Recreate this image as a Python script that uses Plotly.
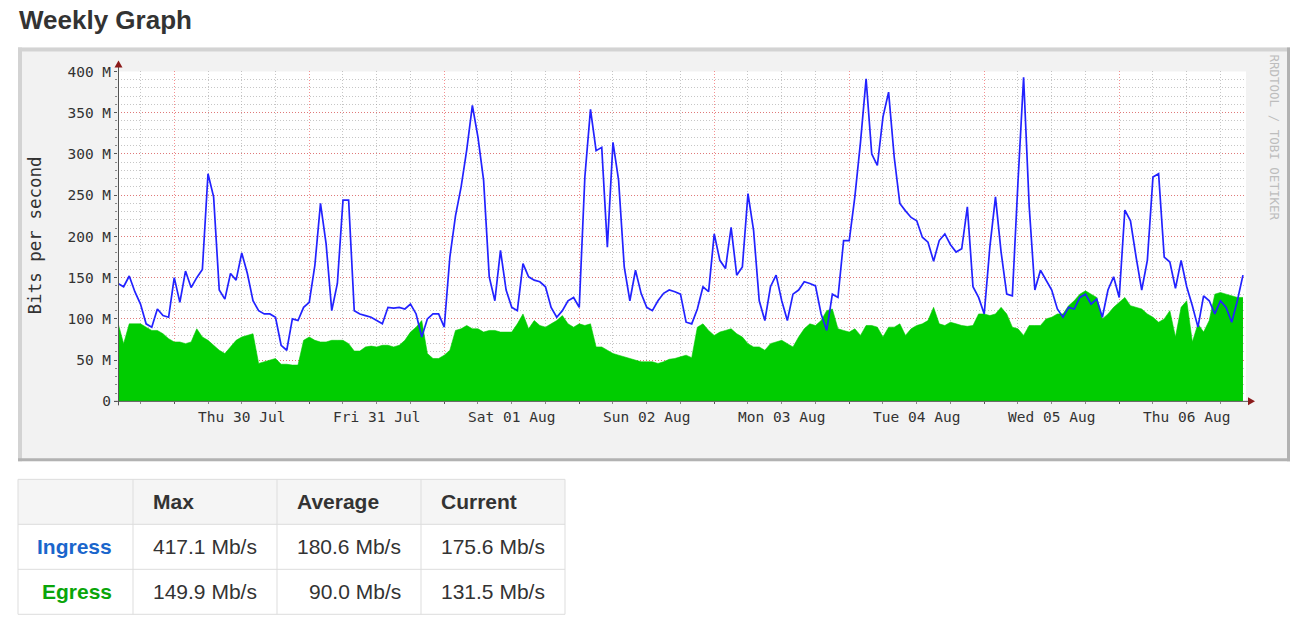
import pandas as pd
import plotly.graph_objects as go

# ---------------- data (Mb/s, hourly samples starting Wed 29 Jul 2020 14:00) -------------
START = "2020-07-29 14:00"
RANGE_END = "2020-08-06 22:11"

INGRESS_MBPS = [
    143, 139, 152, 133, 118, 94, 90, 112, 104, 102,
    150, 120, 158, 138, 150, 160, 276, 248, 135, 124,
    155, 147, 180, 155, 122, 110, 106, 106, 102, 68,
    62, 100, 98, 114, 120, 165, 240, 191, 110, 143,
    244, 244, 110, 106, 104, 102, 98, 94, 114, 113,
    114, 112, 118, 106, 78, 100, 106, 106, 90, 175,
    225, 260, 305, 359, 320, 268, 151, 122, 183, 135,
    114, 110, 167, 151, 147, 145, 139, 114, 102, 110,
    122, 126, 114, 272, 354, 304, 308, 187, 314, 268,
    163, 122, 159, 131, 114, 110, 122, 131, 135, 133,
    130, 96, 94, 112, 139, 133, 203, 171, 161, 211,
    153, 163, 252, 207, 122, 98, 139, 153, 122, 98,
    130, 135, 145, 143, 140, 106, 86, 130, 126, 195,
    195, 248, 314, 391, 300, 286, 345, 375, 296, 240,
    231, 223, 219, 199, 193, 170, 195, 203, 190, 181,
    185, 236, 139, 126, 106, 187, 248, 181, 130, 128,
    266, 393, 236, 135, 159, 147, 135, 112, 102, 114,
    112, 126, 130, 118, 124, 102, 135, 151, 126, 232,
    219, 175, 135, 171, 272, 276, 175, 169, 137, 171,
    139, 116, 90, 128, 122, 106, 122, 114, 96, 122,
    153,
]

EGRESS_MBPS = [
    95, 70, 94, 94, 94, 90, 86, 86, 82, 76,
    72, 72, 70, 72, 88, 78, 74, 68, 62, 58,
    66, 74, 78, 80, 82, 46, 48, 50, 52, 45,
    45, 44, 44, 74, 78, 74, 72, 72, 74, 74,
    74, 70, 61, 61, 66, 67, 66, 68, 68, 66,
    68, 74, 84, 90, 98, 58, 52, 52, 56, 62,
    86, 88, 92, 88, 88, 84, 86, 86, 84, 84,
    84, 94, 106, 88, 98, 92, 90, 94, 98, 104,
    94, 90, 94, 92, 94, 66, 66, 62, 58, 56,
    54, 52, 50, 48, 48, 48, 46, 48, 51, 52,
    54, 56, 53, 90, 94, 86, 80, 84, 86, 88,
    82, 78, 70, 66, 66, 62, 70, 72, 74, 70,
    66, 78, 88, 94, 92, 98, 110, 112, 88, 86,
    84, 88, 80, 92, 92, 90, 78, 90, 90, 94,
    80, 88, 92, 94, 98, 114, 94, 92, 96, 94,
    92, 91, 92, 106, 106, 104, 106, 114, 106, 90,
    88, 80, 92, 92, 92, 100, 102, 106, 106, 116,
    122, 130, 134, 130, 126, 100, 106, 114, 120, 126,
    116, 114, 112, 106, 102, 96, 100, 110, 78, 114,
    122, 72, 94, 84, 98, 130, 132, 130, 128, 126,
    126,
]

YTICK_VALUES = [0, 50, 100, 150, 200, 250, 300, 350, 400]
YTICK_LABELS = ["0", "50 M", "100 M", "150 M", "200 M", "250 M", "300 M", "350 M", "400 M"]

STAT_HEADERS = ["Max", "Average", "Current"]
ROW_LABELS = ["Ingress", "Egress"]
INGRESS_STATS = ["417.1 Mb/s", "180.6 Mb/s", "175.6 Mb/s"]
EGRESS_STATS = ["149.9 Mb/s", "90.0 Mb/s", "131.5 Mb/s"]

# ---------------- layout helpers (target pixel -> paper) ----------------
W, H = 1304, 632
# vertical compensation observed for the capture (image_y = A * page_y + B)
A, B = 0.975, 7.5


def px(x):
    return x / W


def py(y):
    return 1 - ((y - B) / A) / H


MONO = "DejaVu Sans Mono"
SANS = "Liberation Sans, Arial, sans-serif"

times = pd.date_range(START, periods=len(INGRESS_MBPS), freq="h")

fig = go.Figure()
fig.add_trace(go.Scatter(
    x=times, y=EGRESS_MBPS, mode="lines", name="Egress",
    line=dict(color="#00cc00", width=0.6), fill="tozeroy", fillcolor="#00cc00",
    hoverinfo="skip",
))
fig.add_trace(go.Scatter(
    x=times, y=INGRESS_MBPS, mode="lines", name="Ingress",
    line=dict(color="#2222ff", width=1.7),
    hoverinfo="skip",
))

shapes = []
# outer frame of the rrd image
shapes.append(dict(type="rect", xref="paper", yref="paper", layer="below",
                   x0=px(18), x1=px(1290), y0=py(461), y1=py(47),
                   fillcolor="#f2f2f2", line=dict(width=0)))
shapes.append(dict(type="line", xref="paper", yref="paper", layer="below",
                   x0=px(18), x1=px(1290), y0=py(49), y1=py(49),
                   line=dict(color="#d3d3d3", width=4)))
shapes.append(dict(type="line", xref="paper", yref="paper", layer="below",
                   x0=px(20), x1=px(20), y0=py(47), y1=py(461),
                   line=dict(color="#d3d3d3", width=4)))
shapes.append(dict(type="line", xref="paper", yref="paper", layer="below",
                   x0=px(18), x1=px(1290), y0=py(459.5), y1=py(459.5),
                   line=dict(color="#b2b2b2", width=3)))
shapes.append(dict(type="line", xref="paper", yref="paper", layer="below",
                   x0=px(1288.5), x1=px(1288.5), y0=py(47), y1=py(461),
                   line=dict(color="#b2b2b2", width=3)))
# white canvas
shapes.append(dict(type="rect", xref="paper", yref="paper", layer="below",
                   x0=px(118), x1=px(1246), y0=py(401), y1=py(71),
                   fillcolor="#ffffff", line=dict(width=0)))
# axis lines with arrows
shapes.append(dict(type="line", xref="paper", yref="paper", layer="above",
                   x0=px(118.5), x1=px(118.5), y0=py(405), y1=py(64),
                   line=dict(color="#555555", width=1)))
shapes.append(dict(type="line", xref="paper", yref="paper", layer="above",
                   x0=px(114), x1=px(1249), y0=py(401), y1=py(401),
                   line=dict(color="#555555", width=1)))
shapes.append(dict(type="path", xref="paper", yref="paper", layer="above",
                   path=f"M {px(114.5)},{py(67)} L {px(122.5)},{py(67)} L {px(118.5)},{py(60)} Z",
                   fillcolor="#8b1a1a", line=dict(width=0)))
shapes.append(dict(type="path", xref="paper", yref="paper", layer="above",
                   path=f"M {px(1248)},{py(397)} L {px(1248)},{py(405)} L {px(1255)},{py(401)} Z",
                   fillcolor="#8b1a1a", line=dict(width=0)))

annotations = []
annotations.append(dict(xref="paper", yref="paper", x=px(17), y=py(20), xanchor="left", yanchor="middle",
                        text="<b>Weekly Graph</b>", showarrow=False,
                        font=dict(family=SANS, size=26, color="#333333")))
annotations.append(dict(xref="paper", yref="paper", x=px(35), y=py(235), xanchor="center", yanchor="middle",
                        text="Bits per second", textangle=-90, showarrow=False,
                        font=dict(family=MONO, size=17.5, color="#333333")))
annotations.append(dict(xref="paper", yref="paper", x=px(1275), y=py(137), xanchor="center", yanchor="middle",
                        text="RRDTOOL / TOBI OETIKER", textangle=90, showarrow=False,
                        font=dict(family=MONO, size=12.5, color="#bdbdbd")))

# ---------------- stats table ----------------
col_edges = [18, 133, 277, 421, 565]
row_edges = [479, 524, 569, 614]
shapes.append(dict(type="rect", xref="paper", yref="paper",
                   x0=px(col_edges[0]), x1=px(col_edges[-1]), y0=py(row_edges[1]), y1=py(row_edges[0]),
                   fillcolor="#f5f5f5", line=dict(width=0)))
for yv in row_edges:
    shapes.append(dict(type="line", xref="paper", yref="paper",
                       x0=px(col_edges[0]), x1=px(col_edges[-1]), y0=py(yv), y1=py(yv),
                       line=dict(color="#dddddd", width=1)))
for xv in col_edges:
    shapes.append(dict(type="line", xref="paper", yref="paper",
                       x0=px(xv), x1=px(xv), y0=py(row_edges[0]), y1=py(row_edges[-1]),
                       line=dict(color="#dddddd", width=1)))

for i, head in enumerate(STAT_HEADERS):
    annotations.append(dict(xref="paper", yref="paper", x=px(col_edges[i + 1] + 18),
                            y=py((row_edges[0] + row_edges[1]) / 2), xanchor="left", yanchor="middle",
                            text=f"<b>{head}</b>", showarrow=False,
                            font=dict(family=SANS, size=21, color="#333333")))

row_colors = ["#1a66cc", "#0aa50a"]
for r, (label, stats) in enumerate(zip(ROW_LABELS, [INGRESS_STATS, EGRESS_STATS])):
    yc = py((row_edges[r + 1] + row_edges[r + 2]) / 2)
    annotations.append(dict(xref="paper", yref="paper", x=px(col_edges[1] - 19), y=yc,
                            xanchor="right", yanchor="middle", text=f"<b>{label}</b>", showarrow=False,
                            font=dict(family=SANS, size=21, color=row_colors[r])))
    for c, val in enumerate(stats):
        annotations.append(dict(xref="paper", yref="paper", x=px(col_edges[c + 2] - 18), y=yc,
                                xanchor="right", yanchor="middle", text=val, showarrow=False,
                                font=dict(family=SANS, size=21, color="#333333")))

RED_GRID = "rgba(240,70,70,0.6)"
GRAY_GRID = "rgba(160,160,160,0.6)"

fig.update_layout(
    width=W, height=H, autosize=False,
    margin=dict(l=0, r=0, t=0, b=0, pad=0),
    paper_bgcolor="#ffffff",
    plot_bgcolor="rgba(0,0,0,0)",
    showlegend=False,
    shapes=shapes,
    annotations=annotations,
    xaxis=dict(
        type="date",
        domain=[px(118), px(1244)],
        range=[START, RANGE_END],
        tick0="2020-07-30", dtick=86400000,
        tickformat="%a %d %b", ticklabelmode="period",
        showgrid=True, gridcolor=RED_GRID, griddash="1px,2px", gridwidth=1,
        ticks="outside", ticklen=2, tickcolor="#555555",
        minor=dict(dtick=21600000, showgrid=True, gridcolor=GRAY_GRID, griddash="1px,2px",
                   ticks="outside", ticklen=2, tickcolor="#888888"),
        showline=False, zeroline=False,
        tickfont=dict(family=MONO, size=14.5, color="#333333"),
        fixedrange=True,
    ),
    yaxis=dict(
        domain=[py(401), py(71)],
        range=[0, 400],
        tickmode="array", tickvals=YTICK_VALUES, ticktext=YTICK_LABELS,
        showgrid=True, gridcolor=RED_GRID, griddash="1px,2px", gridwidth=1,
        ticks="outside", ticklen=3, tickcolor="#555555",
        minor=dict(tickmode="linear", tick0=0, dtick=10, showgrid=True, gridcolor=GRAY_GRID,
                   griddash="1px,2px", ticks="outside", ticklen=2, tickcolor="#888888"),
        showline=False, zeroline=False,
        tickfont=dict(family=MONO, size=14.5, color="#333333"),
        fixedrange=True,
    ),
)

fig.write_html("out.html", config={"displayModeBar": False, "responsive": False},
               post_script="document.body.style.margin='0';document.body.style.overflow='hidden';")
